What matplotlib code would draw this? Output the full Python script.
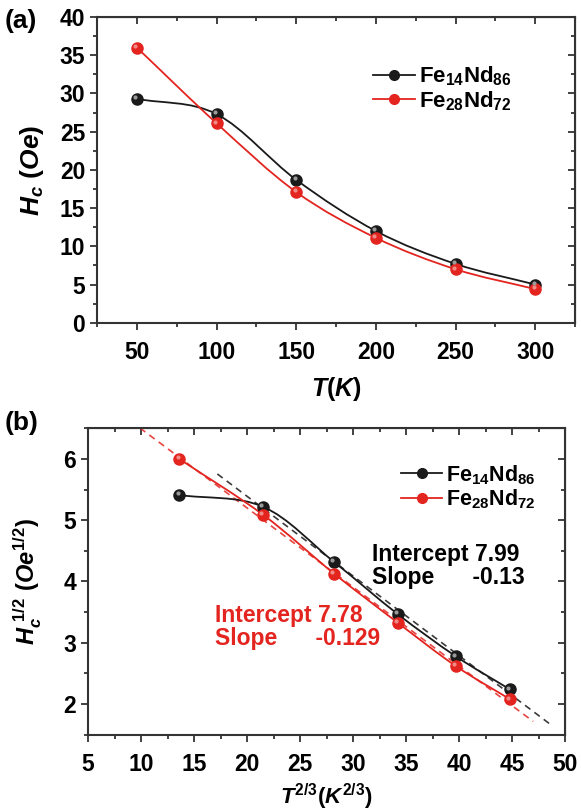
import numpy as np
import matplotlib
matplotlib.use("Agg")
import matplotlib.pyplot as plt
from matplotlib.path import Path
from matplotlib.patches import PathPatch
from matplotlib.lines import Line2D
from matplotlib.ticker import MultipleLocator
import matplotlib.transforms as mtrans

plt.rcParams['font.family'] = ['Liberation Sans', 'DejaVu Sans']
plt.rcParams['font.weight'] = 'bold'
plt.rcParams['mathtext.fontset'] = 'custom'
plt.rcParams['mathtext.rm'] = 'Liberation Sans:bold'
plt.rcParams['mathtext.it'] = 'Liberation Sans:bold:italic'
plt.rcParams['mathtext.bf'] = 'Liberation Sans:bold'

# panel (a): coercivity vs temperature
T = [50, 100, 150, 200, 250, 300]
hc_fe14 = [29.3, 27.3, 18.7, 12.0, 7.7, 5.0]
hc_fe28 = [36.0, 26.1, 17.1, 11.1, 7.0, 4.4]

# panel (b): sqrt(Hc) vs T^(2/3)
t23 = [13.6, 21.5, 28.2, 34.2, 39.7, 44.8]
sq_fe14 = [5.41, 5.22, 4.32, 3.47, 2.78, 2.24]
sq_fe28 = [6.00, 5.09, 4.13, 3.33, 2.62, 2.08]

# linear fits
fit_fe14 = (7.99, -0.13)
fit_fe28 = (7.78, -0.129)
fit_range_fe14 = (17.2, 48.8)
fit_range_fe28 = (9.9, 47.0)

labels = [r'$\mathbf{Fe_{14}Nd_{86}}$', r'$\mathbf{Fe_{28}Nd_{72}}$']
BLACK = '#1a1a1a'
RED = '#e3241f'
SPINE = '#333333'


def smooth_path(x, y):
    # Catmull-Rom curve through the points, drawn as cubic Bezier segments
    pts = np.column_stack([np.asarray(x, float), np.asarray(y, float)])
    n = len(pts)
    ext = np.vstack([2 * pts[0] - pts[1], pts, 2 * pts[-1] - pts[-2]])
    verts = [pts[0]]
    codes = [Path.MOVETO]
    for i in range(n - 1):
        p0, p1, p2, p3 = ext[i], ext[i + 1], ext[i + 2], ext[i + 3]
        c1 = p1 + (p2 - p0) / 6.0
        c2 = p2 - (p3 - p1) / 6.0
        verts += [c1, c2, p2]
        codes += [Path.CURVE4] * 3
    return Path(verts, codes)


def draw_series(ax, x, y, color, label):
    ax.add_patch(PathPatch(smooth_path(x, y), fc='none', ec=color, lw=1.3, zorder=2))
    ax.plot(x, y, ls='none', marker='o', ms=8, mfc=color, mec=color, zorder=3, label=label)
    off = mtrans.ScaledTranslation(-1.2 / 72, 1.2 / 72, ax.figure.dpi_scale_trans)
    hl = '#9a9a9a' if color == BLACK else '#f08a86'
    ax.plot(x, y, ls='none', marker='o', ms=3, mfc=hl, mec='none', zorder=4,
            transform=ax.transData + off)


def style_axes(ax, xpad):
    for s in ax.spines.values():
        s.set_linewidth(1.5)
        s.set_color(SPINE)
    ax.tick_params(which='both', colors=SPINE, labelcolor='black', labelsize=16.5, width=1.3)
    ax.tick_params(which='major', length=5)
    ax.tick_params(which='minor', length=3)
    ax.tick_params(which='both', axis='x', direction='out', top=False, pad=xpad)
    ax.tick_params(which='both', axis='y', direction='out', right=False)
    sec_x = ax.secondary_xaxis('top')
    sec_y = ax.secondary_yaxis('right')
    for sec in (sec_x, sec_y):
        sec.tick_params(which='both', direction='in', labeltop=False, labelright=False,
                        colors=SPINE, width=1.3)
        sec.tick_params(which='major', length=5)
        sec.tick_params(which='minor', length=3)
    return sec_x, sec_y


def legend_handles():
    return [Line2D([], [], color=c, lw=1.3, marker='o', ms=7, mfc=c, mec=c)
            for c in (BLACK, RED)]


fig = plt.figure(figsize=(5.81, 8.11), dpi=100)

# ---- panel (a)
ax1 = fig.add_axes([0.167, 0.602, 0.823, 0.377])
draw_series(ax1, T, hc_fe14, BLACK, labels[0])
draw_series(ax1, T, hc_fe28, RED, labels[1])
ax1.set_xlim(25, 325)
ax1.set_ylim(0, 40)
ax1.set_xticks(T)
ax1.set_yticks(range(0, 41, 5))
ax1.xaxis.set_minor_locator(MultipleLocator(25))
ax1.yaxis.set_minor_locator(MultipleLocator(2.5))
sx, sy = style_axes(ax1, 8)
sx.set_xticks(T)
sx.xaxis.set_minor_locator(MultipleLocator(25))
sy.set_yticks(range(0, 41, 5))
sy.yaxis.set_minor_locator(MultipleLocator(2.5))
ax1.set_xlabel(r'$\mathit{T(K)}$', fontsize=18, labelpad=8)
ax1.set_ylabel(r'$\mathit{H_{c}\ (Oe)}$', fontsize=19, labelpad=10)
ax1.legend(legend_handles(), labels, loc='upper right', bbox_to_anchor=(0.91, 0.91),
           frameon=False, fontsize=16, handlelength=1.9, handletextpad=0.2,
           labelspacing=0.05)
fig.text(0.008, 0.965, '(a)', fontsize=19, fontweight='bold')

# ---- panel (b)
ax2 = fig.add_axes([0.1515, 0.094, 0.821, 0.378])
draw_series(ax2, t23, sq_fe14, BLACK, labels[0])
draw_series(ax2, t23, sq_fe28, RED, labels[1])
for (b0, b1), (xa, xb), c in ((fit_fe14, fit_range_fe14, BLACK),
                             (fit_fe28, fit_range_fe28, RED)):
    xs = np.array([xa, xb])
    ax2.plot(xs, b0 + b1 * xs, ls=(0, (4, 3)), color=c, lw=1.2, alpha=0.85, zorder=1)
ax2.set_xlim(5, 50)
ax2.set_ylim(1.5, 6.5)
ax2.set_xticks(range(5, 51, 5))
ax2.set_yticks(range(2, 7))
ax2.xaxis.set_minor_locator(MultipleLocator(2.5))
ax2.yaxis.set_minor_locator(MultipleLocator(0.5))
sx, sy = style_axes(ax2, 8)
sx.set_xticks(range(5, 51, 5))
sx.xaxis.set_minor_locator(MultipleLocator(2.5))
sy.set_yticks(range(2, 7))
sy.yaxis.set_minor_locator(MultipleLocator(0.5))
ax2.set_xlabel(r'$\mathit{T^{2/3}(K^{2/3})}$', fontsize=16, labelpad=4)
ax2.set_ylabel(r'$\mathit{H_{c}^{\ 1/2}\ (Oe^{1/2})}$', fontsize=17, labelpad=14)
ax2.legend(legend_handles(), labels, loc='upper right', bbox_to_anchor=(0.98, 0.95),
           frameon=False, fontsize=15.5, handlelength=1.9, handletextpad=0.2,
           labelspacing=0.05)
ax2.text(0.595, 0.625, 'Intercept 7.99\nSlope      -0.13', transform=ax2.transAxes,
         fontsize=16.5, fontweight='bold', color='black', va='top', linespacing=1.0)
ax2.text(0.266, 0.425, 'Intercept 7.78\nSlope      -0.129', transform=ax2.transAxes,
         fontsize=16.5, fontweight='bold', color=RED, va='top', linespacing=1.0)
fig.text(0.008, 0.47, '(b)', fontsize=19, fontweight='bold')

fig.savefig('out.png', dpi=100)
